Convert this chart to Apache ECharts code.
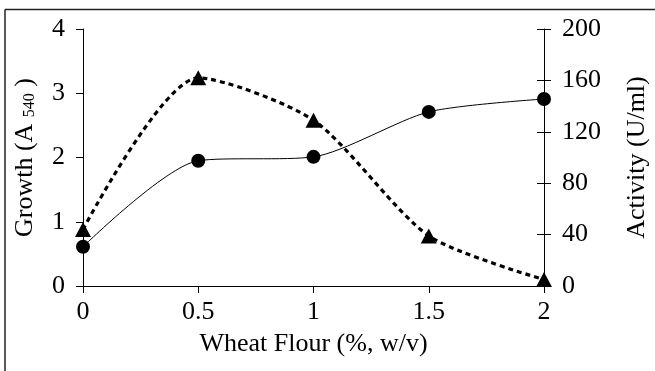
<!DOCTYPE html>
<html>
<head>
<meta charset="utf-8">
<script src="https://cdn.jsdelivr.net/npm/echarts@6/dist/echarts.min.js"></script>
<style>
html,body{margin:0;padding:0;background:#fff;}
#chart{width:655px;height:371px;}
</style>
</head>
<body>
<div id="chart"></div>
<script>
const flour = [0, 0.5, 1, 1.5, 2];
const growth = [0.61, 1.95, 2.01, 2.71, 2.91];
const activity = [44, 162, 129, 39, 5];
const xTitle = 'Wheat Flour (%, w/v)';
const leftTitle = 'Growth (A {sub|540} )';
const rightTitle = 'Activity (U/ml)';

const FONT = 'Liberation Serif';
const FS = 26;
const chart = echarts.init(document.getElementById('chart'));
const axisLine = {show: true, lineStyle: {color: '#000', width: 1}};
chart.setOption({
  animation: false,
  backgroundColor: '#fff',
  grid: {left: 83, right: 111, top: 29, bottom: 85, containLabel: false, outerBoundsMode: 'none'},
  graphic: [
    {type: 'line', shape: {x1: 5, y1: 9.5, x2: 655, y2: 9.5}, style: {stroke: '#222', lineWidth: 1.5}},
    {type: 'line', shape: {x1: 5, y1: 9.5, x2: 5, y2: 371}, style: {stroke: '#222', lineWidth: 1.5}}
  ],
  xAxis: {
    type: 'value', min: 0, max: 2, interval: 0.5,
    axisLine: axisLine,
    axisTick: {show: true, length: 7, lineStyle: {color: '#000'}},
    axisLabel: {color: '#000', fontFamily: FONT, fontSize: FS, margin: 13},
    splitLine: {show: false},
    name: xTitle, nameLocation: 'middle', nameGap: 45,
    nameTextStyle: {color: '#000', fontFamily: FONT, fontSize: FS}
  },
  yAxis: [
    {
      type: 'value', min: 0, max: 4, interval: 1, position: 'left',
      axisLine: axisLine,
      axisTick: {show: true, length: 7, lineStyle: {color: '#000'}},
      axisLabel: {color: '#000', fontFamily: FONT, fontSize: FS, margin: 18},
      splitLine: {show: false},
      name: leftTitle, nameLocation: 'middle', nameGap: 45, nameRotate: 90,
      nameTextStyle: {color: '#000', fontFamily: FONT, fontSize: FS,
        rich: {sub: {fontFamily: FONT, fontSize: 16, color: '#000', verticalAlign: 'bottom', padding: [8, 0, 0, 0]}}}
    },
    {
      type: 'value', min: 0, max: 200, interval: 40, position: 'right',
      axisLine: axisLine,
      axisTick: {show: true, length: 7, lineStyle: {color: '#000'}},
      axisLabel: {color: '#000', fontFamily: FONT, fontSize: FS, margin: 18},
      splitLine: {show: false},
      name: rightTitle, nameLocation: 'middle', nameGap: 80, nameRotate: 90,
      nameTextStyle: {color: '#000', fontFamily: FONT, fontSize: FS}
    },
    {
      type: 'value', min: 0, max: 200, interval: 40, position: 'right',
      axisLine: {show: false},
      axisTick: {show: true, inside: true, length: 7, lineStyle: {color: '#000'}},
      axisLabel: {show: false},
      splitLine: {show: false}
    }
  ],
  series: [
    {
      type: 'line', yAxisIndex: 1, smooth: 0.25,
      data: flour.map((x, i) => [x, activity[i]]),
      symbol: 'triangle', symbolSize: [16, 15],
      itemStyle: {color: '#000'},
      lineStyle: {color: '#000', width: 3.2, type: [5, 4]},
      z: 3
    },
    {
      type: 'line', yAxisIndex: 0, smooth: 0.25,
      data: flour.map((x, i) => [x, growth[i]]),
      symbol: 'circle', symbolSize: 14,
      itemStyle: {color: '#000'},
      lineStyle: {color: '#000', width: 1},
      z: 4
    }
  ]
});
</script>
</body>
</html>
